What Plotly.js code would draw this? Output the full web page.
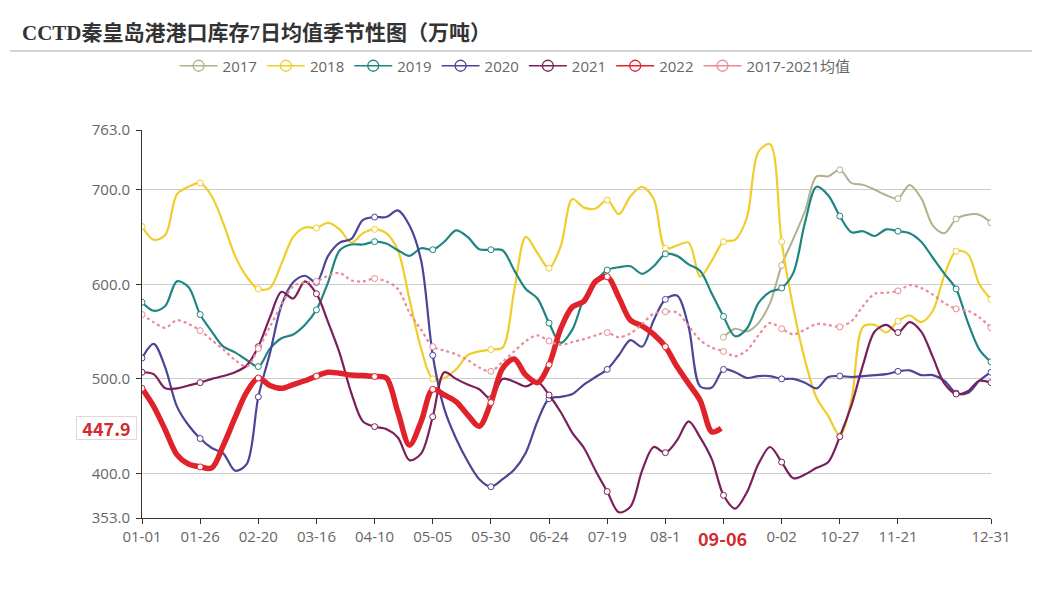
<!DOCTYPE html>
<html>
<head>
<meta charset="utf-8">
<script src="https://cdn.plot.ly/plotly-3.0.1.min.js"></script>
<style>
html,body{margin:0;padding:0;background:#fff;}
#chart{width:1047px;height:598px;}
</style>
</head>
<body>
<div id="chart"></div>
<script>
// day index from 01-01 (leap-year calendar, 0..365)
const days = [0,5,10,15,20,25,30,35,40,45,50,55,60,65,70,75,80,85,90,95,
  100,105,110,115,120,125,130,135,140,145,150,155,160,165,170,175,180,185,190,195,
  200,205,210,215,220,225,230,235,240,245,250,255,260,265,270,275,280,285,290,295,
  300,305,310,315,320,325,330,335,340,345,350,355,360,365];
const tickDays = [0,25,50,75,100,125,150,175,200,225,250,275,300,325,365];
const tickLabels = ['01-01','01-26','02-20','03-16','04-10','05-05','05-30','06-24','07-19','08-1','','0-02','10-27','11-21','12-31'];
const currentDay = 249.5;
const currentLabel = '09-06';
const yTicks = [353,400,500,600,700,763];
const yTickLabels = ['353.0','400.0','500.0','600.0','700.0','763.0'];

const days2017 = [250,255,260,265,270,275,280,285,290,295,300,305,310,315,320,325,330,335,340,345,350,355,360,365];
const y2017 = [544,553,550,559,580,620,648,677,714,714,721,707,705,700,694,690.5,705,691,662,654,669,673.5,673.5,665];

const y2018 = [661,647,652,695,703,707,693,664,630,608,
  595,596,622,650,660,659.5,665,658,644,654,
  658,654,636,584,532,500,501,510,525,529,
  531,533,593,650,633,617,640,690,681,680,
  689,674,693,703,690,638,641,644,608,625,
  645,647,670,740,748,645,575,520,480,461,
  440,478,555,557,549,561,567,560,572,610,
  635,632,600,584];

const y2019 = [581,572,577,603,597,568,550,534,528,520,
  513,532,543,547,557,573,602,636,642,642,
  645,643,636,630,638,636.5,645,657,650,637,
  636.5,636,615,595,585,559,538,552,585,603,
  615,618,619,611,619,632,630,621,614,590,
  566,545,553,580,592,596,612,665,703,694,
  672,655,656,651,658,656,654,645,628,611,
  595,560,531,518];

const y2020 = [522,537,512,471,451,437,427,421,403,410,
  481,527,578,602,609,602,630,644,648,668,
  671,671,678,662,625,525,468,437,413,394,
  386,394,404,422,455,479,481,484,494,502,
  510,525,541,534,562,584,588,555,492,491,
  510,507,501,503,503,500,500,496,490,502,
  503,502,503,504,505,508,509,504,504,498,
  485,485,498,507];

const y2021 = [507,505,490,490,493,496,500,503,507,514,
  534,565,592,585,603,590,560,527,485,455,
  449.5,447,438,414,421,460,507,500,494,489,
  479,500,497,492,497,483,465,443,427,403,
  381,359,365,403,428,422,435,455,438,415,
  377,363,380,410,428,412,395,399,406,412,
  439,472,515,550,557,549,560,550,523,495,
  484,487,498,496];

const days2022 = [0,5,10,15,20,25,30,35,40,45,50,55,60,65,70,75,80,85,90,95,
  100,105,110,115,120,125,130,135,140,145,150,155,160,165,170,175,180,185,190,195,
  200,205,210,215,220,225,230,235,240,245,249];
const y2022 = [490,471,446,420,410,407,406,430,459,486,
  501,493,490,494,498,503,507,506,504,503.5,
  502.5,501,465,430,455,489,483,476,462,450,
  475,511,521,504,496,515,553,576,582,603,
  608,586,562,556,547,534,513,495,477,444,447.9];
const lastValue = '447.9';

const yMean = [568,560,554,562,558,551,541,531,520,513,
  532,555,578,598,602,603,609,612,604,603,
  606,603,595,570,552,534,530,526,520,512,
  508,518,529,540,546,540,536,539,542,546,
  549,544,548,558,569,571,570,556,541,533,
  529,524,530,546,559,553,547,552,558,557,
  555,561,577,590,591,593,599,596,589,580,
  574,572,565,554];

const series = [
  {name:'2017', x:days2017, y:y2017, color:'#b3b08d', width:2, dash:'solid'},
  {name:'2018', x:days, y:y2018, color:'#f0cd2c', width:2.2, dash:'solid'},
  {name:'2019', x:days, y:y2019, color:'#1f8582', width:2.2, dash:'solid'},
  {name:'2020', x:days, y:y2020, color:'#4a4596', width:2.2, dash:'solid'},
  {name:'2021', x:days, y:y2021, color:'#7a1f5b', width:2.2, dash:'solid'},
  {name:'2022', x:days2022, y:y2022, color:'#e0222b', width:5.5, dash:'solid'},
  {name:'2017-2021均值', x:days, y:yMean, color:'#ea8a95', width:2.2, dash:'dot'}
];

const FONT = '"Open Sans", "Noto Sans CJK SC", sans-serif';
const CJKFONT = '"Noto Sans CJK SC", "Open Sans", sans-serif';
const traces = [];
// legend-only entries
series.forEach(s => {
  traces.push({
    x:[null], y:[null], name:s.name, type:'scatter', mode:'lines+markers',
    line:{color:s.color, width:1.5},
    marker:{symbol:'circle-open', size:11, color:s.color, line:{width:1.3}},
    hoverinfo:'skip'
  });
});
// lines + sparse symbols
series.forEach(s => {
  traces.push({
    x:s.x, y:s.y, type:'scatter', mode:'lines', showlegend:false,
    line:{color:s.color, width:s.width, dash:s.dash, shape:'spline', smoothing:0.9},
    hoverinfo:'skip'
  });
  const mx = [], my = [];
  s.x.forEach((d,i) => { if (d % 25 === 0 || d === 365) { mx.push(d); my.push(s.y[i]); } });
  traces.push({
    x:mx, y:my, type:'scatter', mode:'markers', showlegend:false,
    marker:{symbol:'circle', size:6, color:'#ffffff', line:{color:s.color, width:1}},
    hoverinfo:'skip'
  });
});

const layout = {
  width:1047, height:598,
  margin:{l:142, r:56, t:130, b:80},
  paper_bgcolor:'#ffffff', plot_bgcolor:'#ffffff',
  title:{
    text:'<b>CCTD秦皇岛港港口库存7日均值季节性图（万吨）</b>',
    x:22/1047, xref:'container', xanchor:'left',
    y:1-33/598, yref:'container', yanchor:'middle',
    font:{family:'"Liberation Serif", "Noto Sans CJK SC", serif', size:21, color:'#333333'}
  },
  showlegend:true,
  legend:{
    orientation:'h', xref:'container', yref:'container',
    x:0.492, xanchor:'center', y:1-66/598, yanchor:'middle',
    font:{family:FONT, size:15, color:'#666666'},
    itemwidth:38, bgcolor:'rgba(0,0,0,0)'
  },
  xaxis:{
    type:'linear', range:[0,365], fixedrange:true,
    tickmode:'array', tickvals:tickDays, ticktext:tickLabels,
    showgrid:false, zeroline:false,
    showline:true, linecolor:'#333333', linewidth:1,
    ticks:'outside', ticklen:5, tickcolor:'#333333',
    tickfont:{family:FONT, size:15, color:'#666666'}
  },
  yaxis:{
    range:[353,763], fixedrange:true,
    tickmode:'array', tickvals:yTicks, ticktext:yTickLabels,
    showgrid:true, gridcolor:'#cccccc', gridwidth:1, zeroline:false,
    showline:true, linecolor:'#333333', linewidth:1,
    ticks:'outside', ticklen:5, tickcolor:'#333333', ticklabelstandoff:3,
    tickfont:{family:FONT, size:15, color:'#666666'}
  },
  shapes:[
    {type:'line', xref:'paper', yref:'paper',
     x0:(10-142)/849, x1:(1032-142)/849, y0:(518-51)/388, y1:(518-51)/388,
     line:{color:'#aaaaaa', width:1}}
  ],
  annotations:[
    {xref:'paper', yref:'y', x:(106-142)/849, y:y2022[y2022.length-1], xanchor:'center', yanchor:'middle',
     text:'<b>'+lastValue+'</b>', showarrow:false,
     font:{family:CJKFONT, size:18, color:'#d32a30'},
     bgcolor:'#ffffff', bordercolor:'#e8d6d6', borderwidth:1, borderpad:1, width:57, height:20},
    {xref:'x', yref:'paper', x:currentDay, y:(518-538)/388, xanchor:'center', yanchor:'middle',
     text:'<b>'+currentLabel+'</b>', showarrow:false,
     font:{family:CJKFONT, size:18, color:'#d32a30'}}
  ]
};

Plotly.newPlot('chart', traces, layout, {displayModeBar:false, staticPlot:true});
</script>
</body>
</html>
